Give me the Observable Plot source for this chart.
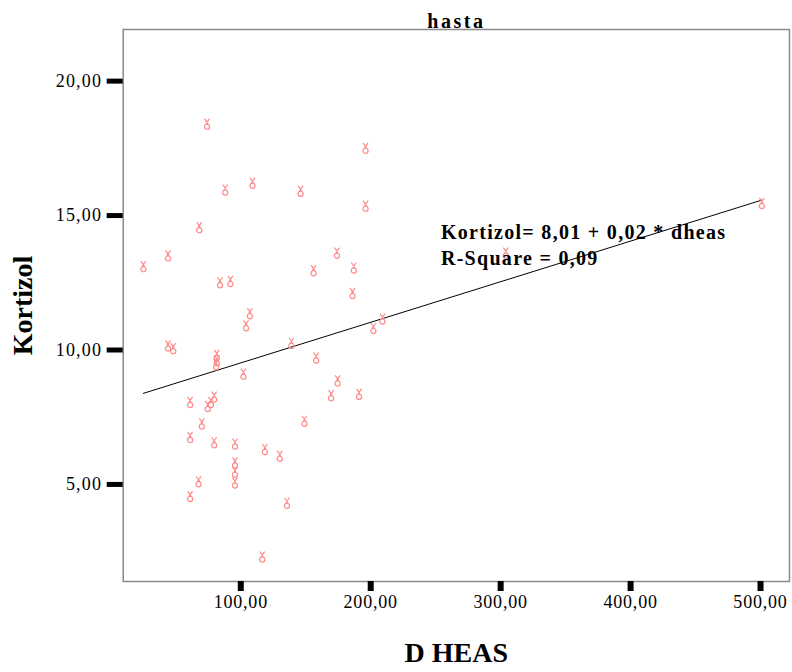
<!DOCTYPE html>
<html>
<head>
<meta charset="utf-8">
<script src="https://cdn.jsdelivr.net/npm/d3@7"></script>
<script src="https://cdn.jsdelivr.net/npm/@observablehq/plot@0.6"></script>
<style>
  html, body { margin: 0; padding: 0; background: #fff; }
  #chart svg { display: block; }
  g.annot text { letter-spacing: 1.3px; }
  g.title text { letter-spacing: 2.5px; }
  g[aria-label="x-axis tick label"] text { letter-spacing: 0.8px; }
  g[aria-label="y-axis tick label"] text { letter-spacing: 1.2px; }
</style>
</head>
<body>
<div id="chart"></div>
<script>
// ---- data ----
const dheas = [25, 44, 44, 48, 68, 74, 88, 109, 146, 196, 196, 174, 187, 156, 186, 84, 92, 107, 104, 139,
  202, 209, 304, 501, 81.5, 81.5, 81, 102, 158, 61, 79.5, 77, 74.5, 70, 149, 61, 79.5, 95.5, 118.5, 130,
  95.5, 95.5, 95.5, 67.5, 61, 135.5, 116.5, 174.5, 169.5, 191];
const kortizol = [13.1, 13.5, 10.15, 10.05, 14.55, 18.4, 15.95, 16.2, 15.9, 17.5, 15.35, 13.6, 13.05, 12.95, 12.1, 12.5, 12.55, 11.35, 10.9, 10.25,
  10.8, 11.15, 13.6, 15.45, 9.8, 9.6, 9.45, 9.1, 9.7, 8.05, 8.25, 8.05, 7.9, 7.25, 7.35, 6.75, 6.55, 6.5, 6.3, 6.05,
  5.8, 5.45, 5.05, 5.1, 4.55, 4.3, 2.3, 8.85, 8.3, 8.35];
const xTicks = [100, 200, 300, 400, 500];
const yTicks = [5, 10, 15, 20];
const fitIntercept = 8.01;
const fitSlope = 0.0151;
const titleText = "hasta";
const xLabel = "D HEAS";
const yLabel = "Kortizol";
const equationLines = ["Kortizol= 8,01 + 0,02 * dheas", "R-Square = 0,09"];

// ---- build ----
const points = dheas.map((x, i) => ({x, y: kortizol[i]}));
const [xmin, xmax] = d3.extent(dheas);
const fitLine = [xmin, xmax].map(x => ({x, y: fitIntercept + fitSlope * x}));
const fmt = d => d.toFixed(2).replace(".", ",");
const annot = [
  {x: 254, y: 14.35, text: equationLines[0]},
  {x: 254, y: 13.4, text: equationLines[1]}
];

// SPSS-like "victory hand" marker drawn as a custom symbol
const handSymbol = {
  draw(context) {
    context.moveTo(-2.5, -5.5); context.lineTo(1, -0.5);
    context.moveTo(2.5, -5.5); context.lineTo(-1, -0.5);
    context.moveTo(2.6, 2.5);
    context.arc(0, 2.5, 2.6, 0, 2 * Math.PI);
  }
};

const serif = "'Liberation Serif', 'Times New Roman', serif";

const chart = Plot.plot({
  width: 792,
  height: 672,
  marginLeft: 122.7,
  marginRight: 3,
  marginTop: 29,
  marginBottom: 91,
  style: {fontFamily: serif, fontSize: "18px", background: "#fff", color: "#000"},
  x: {domain: [9.5, 522.3]},
  y: {domain: [1.39, 21.92]},
  marks: [
    Plot.frame({stroke: "#8a8a8a", strokeWidth: 1.5}),
    Plot.axisX({ticks: xTicks, tickFormat: fmt, tickSize: 10, tickPadding: 4, strokeWidth: 6,
      stroke: "#000", fontSize: 18, label: null}),
    Plot.axisY({ticks: yTicks, tickFormat: fmt, tickSize: 16, tickPadding: 5, strokeWidth: 5,
      stroke: "#000", fontSize: 18, label: null}),
    Plot.line(fitLine, {x: "x", y: "y", stroke: "#000", strokeWidth: 1}),
    Plot.dot(points, {x: "x", y: "y", symbol: handSymbol, stroke: "#ff8a8a", strokeWidth: 1.2, fill: "none"}),
    Plot.text(annot, {x: "x", y: "y", text: "text", textAnchor: "start", fontSize: 20,
      fontWeight: "bold", fill: "#000", className: "annot"}),
    Plot.text([titleText], {frameAnchor: "top", dy: -16, fontSize: 20, fontWeight: "bold", fill: "#000", className: "title"}),
    Plot.text([xLabel], {frameAnchor: "bottom", dy: 80, fontSize: 28, fontWeight: "bold", fill: "#000"}),
    Plot.text([yLabel], {frameAnchor: "left", dx: -100, rotate: -90, textAnchor: "middle", fontSize: 28, fontWeight: "bold", fill: "#000"})
  ]
});
document.getElementById("chart").append(chart);
</script>
</body>
</html>
